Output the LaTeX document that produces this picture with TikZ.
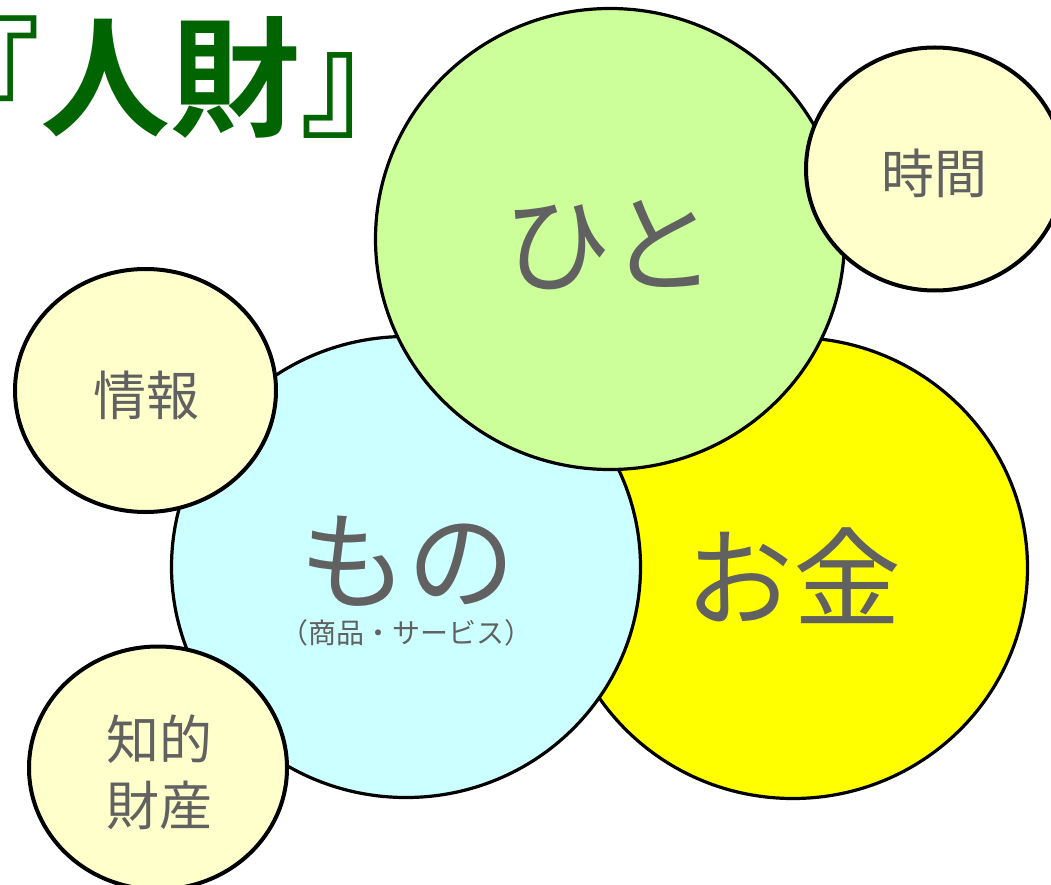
\documentclass[tikz,border=0pt]{standalone}
\usepackage{fontspec}
\setmainfont{Noto Sans CJK JP}
\newfontfamily\jpbold{Noto Sans CJK JP Bold}
\usetikzlibrary{shapes.geometric}
\definecolor{titlegreen}{HTML}{006400}
\definecolor{labelgray}{HTML}{616161}
\definecolor{hitogreen}{HTML}{CCFF99}
\definecolor{monocyan}{HTML}{CCFFFF}
\definecolor{moneyyellow}{HTML}{FFFF00}
\definecolor{smallyellow}{HTML}{FFFFCC}
\tikzset{
  bigblob/.style={ellipse, draw=black, line width=3.2pt, minimum width=469pt, minimum height=461pt, inner sep=0pt},
  smallblob/.style={ellipse, draw=black, line width=4pt, fill=smallyellow, minimum width=258pt, minimum height=243pt, inner sep=0pt},
  biglabel/.style={text=labelgray, font=\fontsize{108}{118}\selectfont, inner sep=0pt},
  smalllabel/.style={text=labelgray, font=\fontsize{53}{66}\selectfont, inner sep=0pt, align=center},
  sublabel/.style={text=labelgray, font=\fontsize{28}{32}\selectfont, inner sep=0pt}
}
\begin{document}
\begin{tikzpicture}[x=1pt,y=-1pt]
\useasboundingbox (0,0) rectangle (1051,885);
\begin{scope}
\clip (0,0) rectangle (1051,885);
\node[bigblob, fill=moneyyellow] (okane) at (793,568) {};
\node[bigblob, fill=monocyan] (mono) at (406,567) {};
\node[bigblob, fill=hitogreen] (hito) at (610,239) {};
\node[smallblob] (jikan) at (935,169) {};
\node[smallblob, minimum width=261pt] (joho) at (145.5,390.5) {};
\node[smallblob] (chiteki) at (158,768) {};

\node[biglabel] (hitot) at (610,245) {ひと};
\node[biglabel] (monot) at (407,561) {もの};
\node[sublabel] (monosub) at (406,633) {（商品・サービス）};
\node[biglabel] (okanet) at (793,576) {お金};
\node[smalllabel] (jikant) at (934,173) {時間};
\node[smalllabel] (johot) at (146,395) {情報};
\node[smalllabel] (chitekit) at (159,772) {知的\\財産};

\node[anchor=base west, inner sep=0pt, text=titlegreen, font=\jpbold\fontsize{130}{140}\selectfont] (title) at (-90,127) {『人財』};
\end{scope}
\end{tikzpicture}
\end{document}
